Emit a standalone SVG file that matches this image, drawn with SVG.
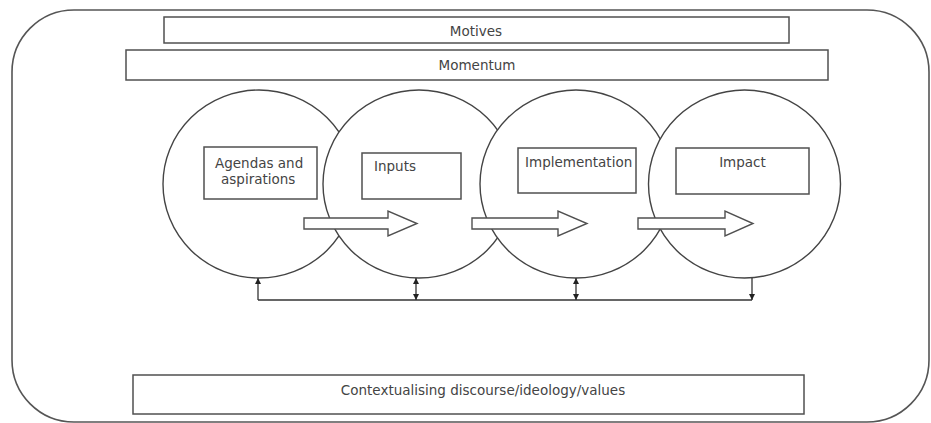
<svg xmlns="http://www.w3.org/2000/svg" width="931" height="423" viewBox="0 0 931 423">
<style>
.frame{fill:none;stroke:#555;stroke-width:1.6}
.box{fill:#fff;stroke:#505050;stroke-width:1.5}
.circ{fill:#fff;stroke:#444;stroke-width:1.4}
.blk{fill:#fff;stroke:#505050;stroke-width:1.4;stroke-linejoin:miter}
.lbl{font-family:"DejaVu Sans",sans-serif;font-size:13.5px;fill:#444}
.mid{text-anchor:middle}
.con{fill:none;stroke:#333;stroke-width:1.3}
</style>
<defs>
<marker id="ah" viewBox="0 0 10 10" refX="10" refY="5" markerWidth="6" markerHeight="6" markerUnits="userSpaceOnUse" orient="auto-start-reverse">
<path d="M0,0 L10,5 L0,10 Z" fill="#222"/>
</marker>
</defs>
<rect class="frame" x="12" y="10" width="917" height="412" rx="62" ry="62"/>
<g id="motives"><rect class="box" x="164" y="17" width="625" height="26"/><text class="lbl mid" x="476" y="36">Motives</text></g>
<g id="momentum"><rect class="box" x="126" y="50" width="702" height="30"/><text class="lbl mid" x="477" y="70">Momentum</text></g>
<g id="agendas"><ellipse class="circ" cx="259" cy="184" rx="96" ry="94"/></g>
<g id="inputs"><ellipse class="circ" cx="419" cy="184" rx="96" ry="94"/></g>
<g id="implementation"><ellipse class="circ" cx="576" cy="184" rx="96" ry="94"/></g>
<g id="impact"><ellipse class="circ" cx="744.5" cy="184" rx="96" ry="94"/></g>
<g id="agendas-box"><rect class="box" x="204" y="147" width="113" height="52"/><text class="lbl" x="215" y="168">Agendas and</text><text class="lbl" x="221" y="184">aspirations</text></g>
<g id="inputs-box"><rect class="box" x="362" y="153" width="99" height="46"/><text class="lbl" x="374" y="171">Inputs</text></g>
<g id="implementation-box"><rect class="box" x="518" y="148" width="118" height="45"/><text class="lbl" x="525" y="167">Implementation</text></g>
<g id="impact-box"><rect class="box" x="676" y="148" width="133" height="46"/><text class="lbl mid" x="742.5" y="167">Impact</text></g>
<g id="context"><rect class="box" x="133" y="375" width="671" height="39"/><text class="lbl mid" x="483" y="395">Contextualising discourse/ideology/values</text></g>
<g id="connectors">
<path class="blk" d="M304,218 L388,218 L388,211 L417,223.5 L388,236 L388,229 L304,229 Z"/>
<path class="blk" d="M472,218 L558,218 L558,211 L587,223.5 L558,236 L558,229 L472,229 Z"/>
<path class="blk" d="M638,218 L725,218 L725,211 L753,223.5 L725,236 L725,229 L638,229 Z"/>
<path class="con" d="M258,300 L752,300"/>
<path class="con" d="M258,300 L258,278" marker-end="url(#ah)"/>
<path class="con" d="M416,300 L416,278" marker-start="url(#ah)" marker-end="url(#ah)"/>
<path class="con" d="M576,300 L576,278" marker-start="url(#ah)" marker-end="url(#ah)"/>
<path class="con" d="M752,278 L752,300" marker-end="url(#ah)"/>
</g>
</svg>
